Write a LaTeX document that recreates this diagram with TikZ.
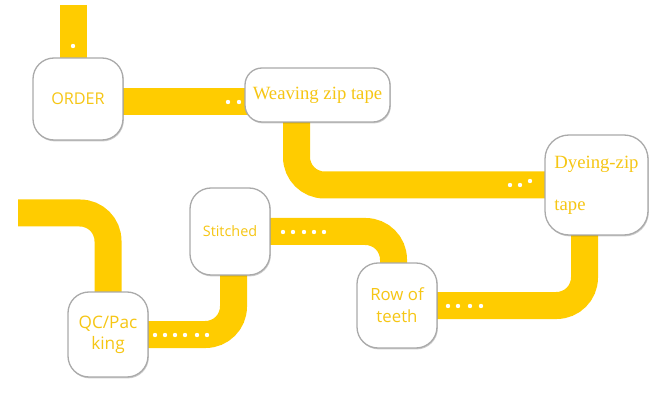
\documentclass[tikz,border=0pt]{standalone}
\usepackage{fontspec}
\newfontfamily\sansf{Open Sans}
\newfontfamily\serf{Liberation Serif}
\usetikzlibrary{backgrounds,shadows}
\definecolor{bary}{RGB}{255,204,0}
\definecolor{txty}{RGB}{246,198,20}
\definecolor{edge}{RGB}{170,170,170}
\tikzset{
  bar/.style={draw=bary,line width=27pt,rounded corners=28pt,line cap=butt},
  box/.style={rectangle,rounded corners=21pt,fill=white,draw=edge,line width=1.3pt,
    text=txty,inner sep=0pt,
    drop shadow={shadow xshift=0.8pt,shadow yshift=-1.4pt,opacity=0.2,fill=black}},
  dotw/.style={fill=white}
}
\begin{document}
\begin{tikzpicture}[x=1pt,y=-1pt]
\useasboundingbox (0,0) rectangle (662,409);
% boxes
\node[box,minimum width=90pt,minimum height=82pt,font=\sansf\fontsize{16.2}{18}\selectfont] (ord) at (78,99) {ORDER};
\node[box,minimum width=145pt,minimum height=54pt,rounded corners=17pt,font=\serf\fontsize{18.7}{22}\selectfont] (weave) at (317.5,95) {Weaving zip tape};
\node[box,minimum width=103pt,minimum height=100pt,rounded corners=24pt,align=left,font=\serf\fontsize{18.7}{22}\selectfont] (dye) at (596.5,185) {Dyeing-zip\\[20pt]tape};
\node[box,minimum width=80pt,minimum height=85pt,align=center,font=\sansf\fontsize{16.8}{22}\selectfont] (row) at (397,305.5) {Row of\\teeth};
\node[box,minimum width=80pt,minimum height=87pt,font=\sansf\fontsize{14.4}{16}\selectfont] (stit) at (230,231.5) {Stitched};
\node[box,minimum width=80pt,minimum height=85pt,align=center,font=\sansf\fontsize{17.2}{21}\selectfont] (qc) at (108,334.5) {QC/Pac\\king};
\coordinate (top) at (73,5);
\coordinate (lft) at (18,213);
% connectors
\begin{scope}[on background layer]
\draw[bar] (top) -- (top |- ord.center);
\draw[bar] ([yshift=-3pt]ord.center) -- ([yshift=-3pt]ord.center -| weave.center);
\draw[bar] ([xshift=-21pt]weave.center) |- (dye.center);
\draw[bar] ([xshift=-12pt]dye.center) |- (row.center);
\draw[bar] (stit.center) -| ([xshift=-3.5pt]row.center);
\draw[bar] ([xshift=3.5pt]stit.center) |- (qc.center);
\draw[bar] (lft) -| (qc.center);
\end{scope}
% dots
\foreach \p in {(73,46),(228,102),(239,102),(510,185),(520,185),(530,181),
  (283,232),(293,232),(304,232),(314,232),(324,232),
  (155,335),(165,335),(175,335),(185,335),(197,335),(207,335),
  (448,306),(458,306),(470,306),(481,306)}
  \fill[dotw] \p circle (2.2pt);
\end{tikzpicture}
\end{document}
